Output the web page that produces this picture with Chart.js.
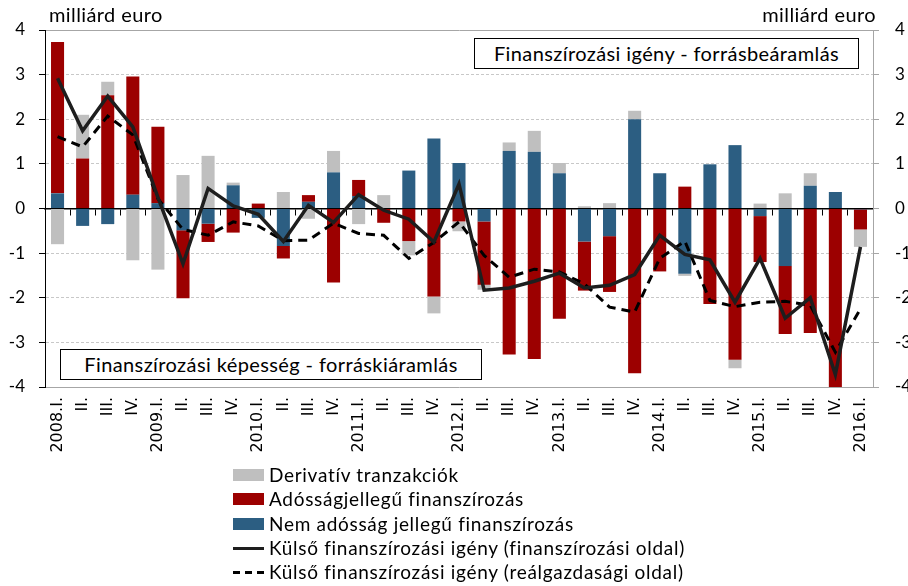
<!DOCTYPE html>
<html>
<head>
<meta charset="utf-8">
<script src="https://cdn.jsdelivr.net/npm/chart.js@4/dist/chart.umd.min.js"></script>
<style>
body{margin:0;background:#fff;font-family:Lato,"Noto Sans",sans-serif;}
#wrap{position:relative;width:908px;height:586px;overflow:hidden;}
#c{position:absolute;left:0;top:0;}
.unit{position:absolute;top:2px;font-size:20px;letter-spacing:0.4px;color:#000;}
.box{position:absolute;border:1px solid #000;background:#fff;font-size:20px;letter-spacing:0.4px;text-align:center;line-height:29px;height:29px;box-sizing:content-box;}
#legend{position:absolute;left:233px;top:463px;font-size:19px;letter-spacing:0.7px;}
#legend div{height:24.3px;line-height:24px;display:flex;align-items:center;white-space:nowrap;}
#legend span.sw{display:inline-block;width:31px;height:12px;margin-right:5px;}
</style>
</head>
<body>
<div id="wrap">
<canvas id="c" width="908" height="586"></canvas>
<div class="unit" style="left:49px">milliárd euro</div>
<div class="unit" style="right:32px">milliárd euro</div>
<div class="box" style="left:474px;top:38px;width:383px">Finanszírozási igény - forrásbeáramlás</div>
<div class="box" style="left:60px;top:349px;width:420px">Finanszírozási képesség - forráskiáramlás</div>
<div id="legend"></div>
</div>
<script>
// negyedévek
var quarters = ['2008.I.','II.','III.','IV.','2009.I.','II.','III.','IV.','2010.I.','II.','III.','IV.',
  '2011.I.','II.','III.','IV.','2012.I.','II.','III.','IV.','2013.I.','II.','III.','IV.',
  '2014.I.','II.','III.','IV.','2015.I.','II.','III.','IV.','2016.I.']

var nemAdossag = [0.34,-0.39,-0.35,0.31,0.12,-0.49,-0.34,0.52,-0.21,-0.84,0.15,0.81,
  0.28,0,0.85,1.57,1.02,-0.29,1.29,1.27,0.79,-0.74,-0.62,2.00,
  0.79,-1.46,0.99,1.42,-0.17,-1.29,0.51,0.37,-0.02]
var adossag = [3.39,1.12,2.54,2.65,1.71,-1.52,-0.41,-0.54,0.11,-0.28,0.15,-1.66,
  0.36,-0.32,-0.73,-1.97,-0.29,-1.42,-3.27,-3.37,-2.47,-1.10,-1.25,-3.69,
  -1.41,0.49,-2.14,-3.39,-1.03,-1.52,-2.79,-4.05,-0.45]
var derivativ = [-0.80,0.98,0.30,-1.16,-1.37,0.75,1.18,0.06,0,0.37,-0.23,0.48,
  -0.35,0.30,-0.32,-0.38,-0.22,-0.11,0.19,0.47,0.23,0.05,0.12,0.19,
  0,-0.05,0,-0.19,0.11,0.34,0.28,0,-0.39]
var finOldal = [2.92,1.74,2.52,1.83,0.25,-1.24,0.45,0.06,-0.13,-0.74,0.07,-0.31,
  0.31,-0.04,-0.24,-0.75,0.55,-1.83,-1.78,-1.63,-1.45,-1.78,-1.72,-1.48,
  -0.60,-1.03,-1.15,-2.10,-1.12,-2.46,-2.00,-3.72,-0.86]
var realOldal = [1.61,1.38,2.07,1.65,0.22,-0.47,-0.60,-0.30,-0.39,-0.72,-0.71,-0.33,
  -0.56,-0.60,-1.12,-0.76,-0.30,-1.05,-1.54,-1.36,-1.42,-1.69,-2.21,-2.32,
  -1.12,-0.73,-2.06,-2.20,-2.10,-2.08,-2.17,-3.22,-2.25]

var szurke = '#bfbfbf', piros = '#9c0000', kek = '#2c5e82'

Chart.defaults.font.family = 'Lato'
Chart.defaults.font.size = 17
Chart.defaults.color = '#000'

var ctx = document.getElementById('c').getContext('2d')
var chart = new Chart(ctx, {
  type: 'bar',
  data: {
    labels: quarters,
    datasets: [
      {label: 'Nem adósság jellegű finanszírozás', data: nemAdossag, backgroundColor: kek, order: 2, categoryPercentage: 0.52, barPercentage: 1},
      {label: 'Adósságjellegű finanszírozás', data: adossag, backgroundColor: piros, order: 2, categoryPercentage: 0.52, barPercentage: 1},
      {label: 'Derivatív tranzakciók', data: derivativ, backgroundColor: szurke, order: 2, categoryPercentage: 0.52, barPercentage: 1},
      {type: 'line', label: 'Külső finanszírozási igény (finanszírozási oldal)', data: finOldal, yAxisID: 'y2',
        borderColor: '#1e1e1e', borderWidth: 3.5, pointRadius: 0, tension: 0, order: 0},
      {type: 'line', label: 'Külső finanszírozási igény (reálgazdasági oldal)', data: realOldal, yAxisID: 'y2',
        borderColor: '#000', borderWidth: 3, borderDash: [9, 6], pointRadius: 0, tension: 0, order: 1}
    ]
  },
  options: {
    responsive: false,
    animation: false,
    layout: {padding: {top: 30, left: 0, right: 0, bottom: 0}},
    plugins: {legend: {display: false}, tooltip: {enabled: false}},
    scales: {
      x: {
        stacked: true,
        position: 'bottom',
        grid: {display: false, drawTicks: false},
        border: {display: true, color: '#a6a6a6'},
        ticks: {autoSkip: false, minRotation: 90, maxRotation: 90, padding: 10,
          font: {family: 'DejaVu Sans', size: 16}},
        afterFit: function(s){ s.height = 199 }
      },
      xZero: {
        type: 'category',
        position: {y: 0},
        offset: true,
        grid: {drawOnChartArea: false, drawTicks: true, tickLength: 6, tickColor: '#000', offset: true},
        border: {display: true, color: '#000', width: 1.5},
        ticks: {display: false}
      },
      xTop: {
        type: 'category',
        position: 'top',
        grid: {display: false, drawTicks: false},
        border: {display: true, color: '#a6a6a6'},
        ticks: {display: false},
        afterFit: function(s){ s.height = 0 }
      },
      y: {
        stacked: true,
        min: -4, max: 4,
        ticks: {stepSize: 1, padding: 14},
        grid: {
          color: function(c){ return (c.tick && Math.abs(c.tick.value) === 4) ? 'rgba(0,0,0,0)' : '#c8c8c8' },
          tickColor: '#000', tickLength: 6
        },
        border: {display: true, color: '#000', dash: [3, 2]},
        afterFit: function(s){ s.width = 45 }
      },
      y2: {
        position: 'right',
        min: -4, max: 4,
        ticks: {stepSize: 1, padding: 16},
        grid: {drawOnChartArea: false, tickColor: '#a6a6a6', tickLength: 6},
        border: {display: true, color: '#a6a6a6'},
        afterFit: function(s){ s.width = 35 }
      }
    }
  }
})

// jelmagyarázat
var leg = document.getElementById('legend')
var legItems = [
  {text: 'Derivatív tranzakciók', kind: 'box', color: szurke},
  {text: 'Adósságjellegű finanszírozás', kind: 'box', color: piros},
  {text: 'Nem adósság jellegű finanszírozás', kind: 'box', color: kek},
  {text: 'Külső finanszírozási igény (finanszírozási oldal)', kind: 'line'},
  {text: 'Külső finanszírozási igény (reálgazdasági oldal)', kind: 'dash'}
]
legItems.forEach(function(it){
  var row = document.createElement('div')
  var sw = document.createElement('span')
  sw.className = 'sw'
  if (it.kind === 'box') {
    sw.style.background = it.color
  } else if (it.kind === 'line') {
    sw.style.height = '0px'
    sw.style.borderTop = '3px solid #1e1e1e'
  } else {
    sw.style.height = '3px'
    sw.style.background = 'repeating-linear-gradient(to right,#000 0 7px,transparent 7px 12px)'
  }
  row.appendChild(sw)
  row.appendChild(document.createTextNode(it.text))
  leg.appendChild(row)
})
</script>
</body>
</html>
